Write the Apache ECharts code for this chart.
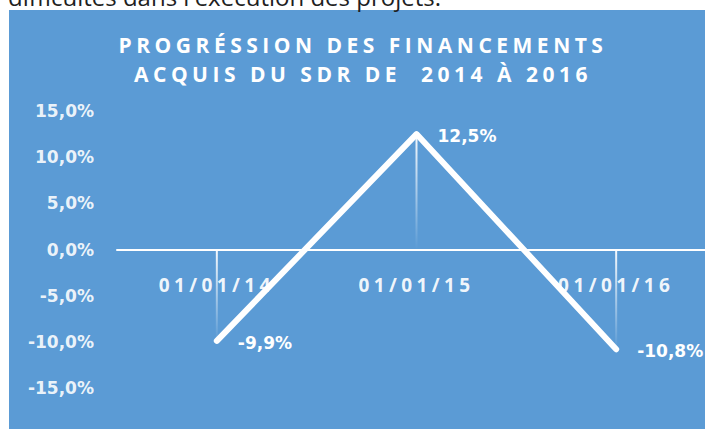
<!DOCTYPE html>
<html>
<head>
<meta charset="utf-8">
<script src="https://cdn.jsdelivr.net/npm/echarts@6/dist/echarts.min.js"></script>
<style>
  html, body { margin: 0; padding: 0; background: #fff; overflow: hidden; }
  /* plot runs past the right edge in the original, so the div is wider than the window */
  #chart { width: 716px; height: 429px; }
  /* excel style spaced text: title 21px, category labels 19px */
  #chart text[style*="21px"] { letter-spacing: 4.5px; }
  #chart text[style*="19px"] { letter-spacing: 4.4px; }
</style>
</head>
<body>
<div id="chart"></div>
<script>
const categories = ["01/01/14", "01/01/15", "01/01/16"];
const progression = [-9.9, 12.5, -10.8];
const yTicks = { min: -15, max: 15, step: 5 };

const pct = (v) => v.toFixed(1).replace(".", ",") + "%";

const gridTop = 111;
const gridHeight = 277;
// x axis sits on the zero line, labels included
const zeroOffset = -gridHeight * (0 - yTicks.min) / (yTicks.max - yTicks.min);

const chart = echarts.init(document.getElementById("chart"), null, { renderer: "svg" });

const option = {
  backgroundColor: "#ffffff",
  animation: false,
  graphic: [
    {
      type: "rect",
      shape: { x: 9, y: 10, width: 710, height: 425 },
      style: { fill: "#5b9bd5" },
      z: -10,
    },
    {
      type: "text",
      style: {
        x: 8,
        y: -4,
        text: "difficultés dans l'exécution des projets.",
        fontFamily: "Open Sans",
        fontSize: 24,
        fill: "#1f1f1f",
        verticalAlign: "middle",
      },
    },
    {
      type: "text",
      style: {
        x: 363,
        y: 59,
        text: "PROGRÉSSION DES FINANCEMENTS\nACQUIS DU SDR DE  2014 À 2016",
        fontFamily: "Open Sans",
        fontWeight: "bold",
        fontSize: 21,
        lineHeight: 29,
        fill: "#ffffff",
        align: "center",
        verticalAlign: "middle",
      },
    },
  ],
  grid: { left: 117, top: gridTop, right: 0, height: gridHeight },
  xAxis: {
    type: "category",
    data: categories,
    offset: zeroOffset,
    axisLine: { onZero: false, lineStyle: { color: "#ffffff", width: 2 } },
    axisTick: { show: false },
    axisLabel: {
      color: "rgba(255,255,255,0.92)",
      fontFamily: "Open Sans",
      fontWeight: "bold",
      fontSize: 19,
      margin: 26,
    },
  },
  yAxis: {
    type: "value",
    min: yTicks.min,
    max: yTicks.max,
    interval: yTicks.step,
    splitLine: { show: false },
    axisLine: { show: false },
    axisLabel: {
      color: "rgba(255,255,255,0.9)",
      fontFamily: "DejaVu Sans",
      fontWeight: "bold",
      fontSize: 17,
      margin: 23,
      formatter: (v) => pct(v),
    },
  },
  series: [
    {
      // drop lines from the points to the axis
      type: "bar",
      data: progression,
      barWidth: 2,
      silent: true,
      itemStyle: {
        color: {
          type: "linear",
          x: 0, y: 0, x2: 0, y2: 1,
          colorStops: [
            { offset: 0, color: "rgba(255,255,255,0.95)" },
            { offset: 1, color: "rgba(255,255,255,0)" },
          ],
        },
      },
      z: 1,
    },
    {
      type: "line",
      data: progression,
      symbol: "circle",
      symbolSize: 2,
      itemStyle: { color: "#ffffff" },
      lineStyle: { color: "#ffffff", width: 6, cap: "round", join: "round" },
      label: {
        show: true,
        position: "right",
        distance: 20,
        offset: [0, 2],
        color: "#ffffff",
        fontFamily: "DejaVu Sans",
        fontWeight: "bold",
        fontSize: 17,
        formatter: (p) => pct(p.value),
      },
      z: 3,
    },
  ],
};

chart.setOption(option);
</script>
</body>
</html>
